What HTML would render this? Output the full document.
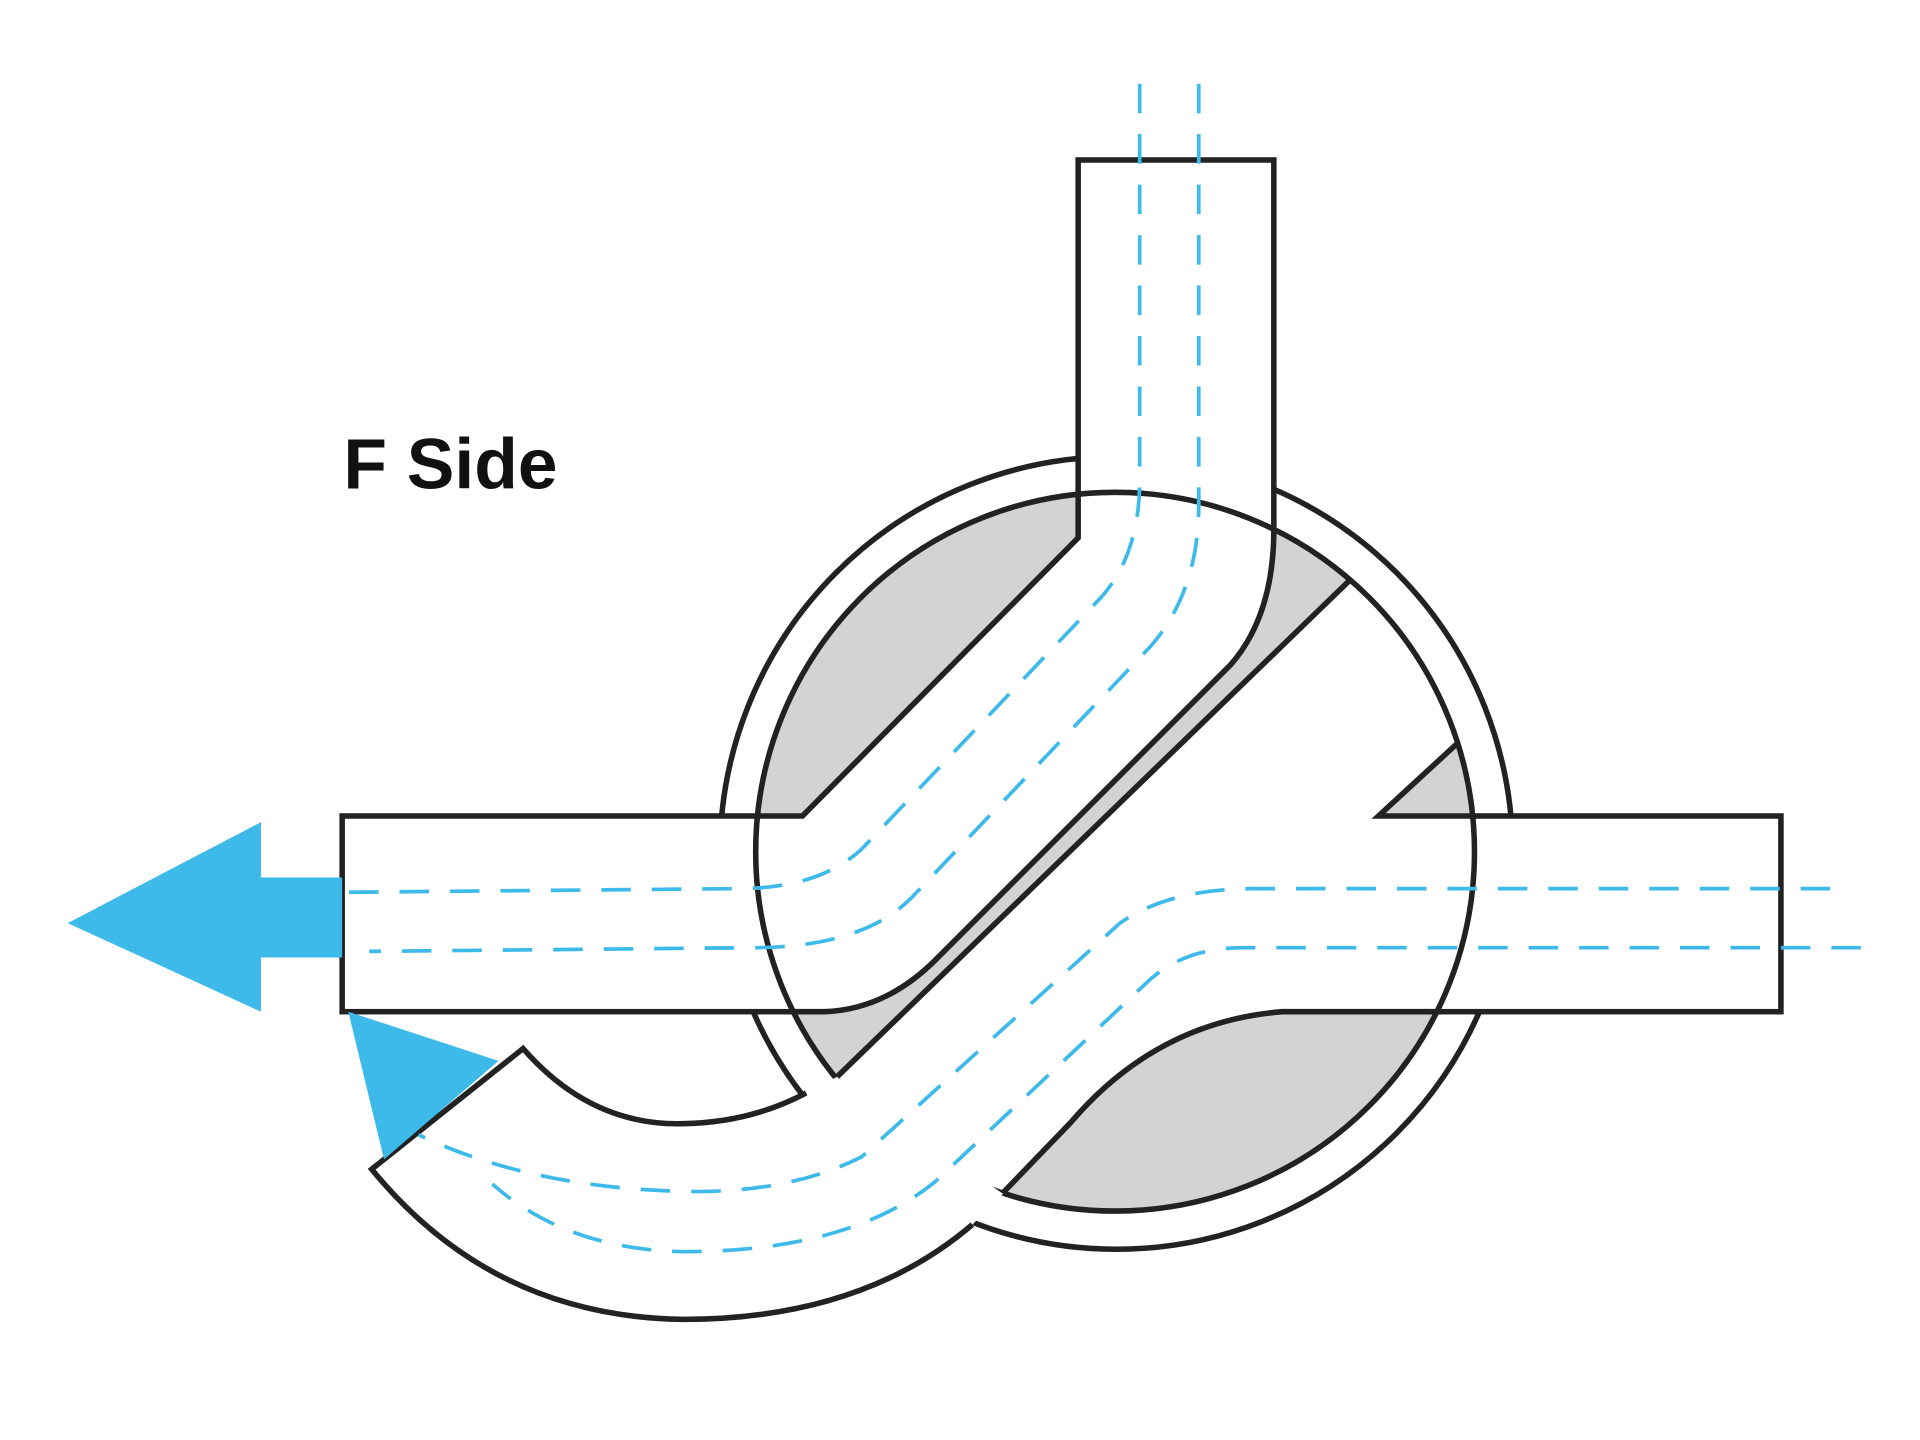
<!DOCTYPE html>
<html><head><style>html,body{margin:0;padding:0;background:#fff}svg{display:block}</style></head>
<body>
<svg width="1920" height="1440" viewBox="0 0 1560 1170" preserveAspectRatio="none" xmlns="http://www.w3.org/2000/svg">
<defs><clipPath id="ic"><circle cx="906" cy="692" r="292"/></clipPath></defs>
<g stroke="#222" stroke-width="4.5" fill="#fff" stroke-linejoin="miter">
<circle cx="907" cy="693" r="322"/>
<rect x="278" y="663" width="400" height="159"/>
<rect x="1120" y="663" width="327" height="159"/>
<rect x="876" y="130" width="159" height="300"/>
<circle cx="906" cy="692" r="292" fill="#d3d3d3" stroke="none"/>
<g clip-path="url(#ic)">
<path d="M876,360 L876,437 L652,663 L560,663 L560,822 L670,822 Q720,820 760,780 L1000,540 Q1035,500 1035,430 L1035,360 Z"/>
<path d="M1093,475 L1200,372 L1320,372 L1320,520 L1183,605 L1120,663 L1250,663 L1250,822 L1042,822 Q940,830 870,912 L790,995 L640,910 L680,875 Z"/>
</g>
<circle cx="906" cy="692" r="292" fill="none"/>
<path d="M302,950 L425,852 Q480,915 555,913 Q610,912 655,888 L680,875 L815,970 L790,995 Q700,1072 555,1072 Q400,1070 302,950 Z" stroke="none"/>
<path d="M790,995 Q700,1072 555,1072 Q400,1070 302,950 L425,852 Q480,915 555,913 Q610,912 655,888" fill="none"/>
</g>
<g fill="#3dbaea">
<path d="M55,750 L212,668 L212,713 L278,713 L278,778 L212,778 L212,822 Z"/>
<path d="M283,822 L405,862 L312,942 Z"/>
</g>
<g fill="none" stroke="#3dbaea" stroke-width="3" stroke-dasharray="24,17">
<path d="M926,68 L926,390 Q926,450 895,485 L700,690 Q665,722 600,722 L278,725"/>
<path d="M974,68 L974,410 Q974,480 935,525 L740,730 Q700,770 610,770 L300,773"/>
<path d="M1487,722 L1020,722 Q950,722 910,750 L700,940 Q640,970 555,968 Q430,965 340,922"/>
<path d="M1512,770 L1010,770 Q960,770 930,800 L760,960 Q690,1017 555,1017 Q460,1015 400,962"/>
</g>
<text x="279" y="397" font-family="Liberation Sans, sans-serif" font-weight="bold" font-size="58" fill="#111">F Side</text>
</svg>
</body></html>
